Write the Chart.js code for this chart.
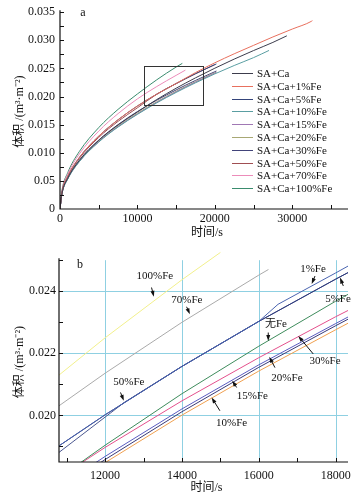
<!DOCTYPE html>
<html>
<head>
<meta charset="utf-8">
<script src="https://cdn.jsdelivr.net/npm/chart.js@4.4.0/dist/chart.umd.min.js"></script>
<style>
html, body { margin: 0; padding: 0; background: #fff; }
#wrap { position: relative; width: 363px; height: 499px; }
canvas { position: absolute; left: 0; }
#ca { top: 0; }
#cb { top: 250px; }
</style>
</head>
<body>
<div id="wrap">
  <canvas id="ca" width="363" height="250"></canvas>
  <canvas id="cb" width="363" height="249"></canvas>
</div>
<script>
const seriesNames = ['SA+Ca', 'SA+Ca+1%Fe', 'SA+Ca+5%Fe', 'SA+Ca+10%Fe', 'SA+Ca+15%Fe',
    'SA+Ca+20%Fe', 'SA+Ca+30%Fe', 'SA+Ca+50%Fe', 'SA+Ca+70%Fe', 'SA+Ca+100%Fe']

// 图a: 全程
const timeA = [0, 250, 1000, 2500, 5000, 7500, 10000, 12500, 15000, 17500, 20000, 22500, 25000, 27500, 30000, 32500]
const vSA = [0, 0.00273, 0.00546, 0.00863, 0.0122, 0.01494, 0.01725, 0.01947, 0.02148, 0.02332, 0.02504, 0.02666, 0.02818, 0.02963]
const v1Fe = [0, 0.0029, 0.00579, 0.00916, 0.01295, 0.01587, 0.01832, 0.02042, 0.02231, 0.02426, 0.0260, 0.0276, 0.0291, 0.0306, 0.0320, 0.0334]
const v5Fe = [0, 0.0029, 0.00579, 0.00916, 0.01295, 0.01587, 0.01832, 0.02042, 0.02231, 0.02406, 0.02568]
const v10Fe = [0, 0.00266, 0.00532, 0.00842, 0.0119, 0.01458, 0.01683, 0.01888, 0.02073, 0.02244, 0.02403, 0.02552, 0.02692]
const v15Fe = [0, 0.00267, 0.00534, 0.00845, 0.01195, 0.01464, 0.0169, 0.01897, 0.02084, 0.02256, 0.02416]
const v20Fe = [0, 0.00269, 0.00538, 0.00851, 0.01203, 0.01474, 0.01702, 0.01907, 0.02093, 0.02264, 0.02423]
const v30Fe = [0, 0.00274, 0.00548, 0.00867, 0.01225, 0.01501, 0.01733, 0.01935, 0.02118, 0.02286, 0.02442]
const v50Fe = [0, 0.00284, 0.00569, 0.009, 0.01273, 0.01559, 0.0180, 0.02042, 0.02231, 0.02406]
const v70Fe = [0, 0.0031, 0.00619, 0.00979, 0.01385, 0.01696, 0.01958, 0.02178, 0.02377]
const v100Fe = [0, 0.00323, 0.00647, 0.01023, 0.01447, 0.01772, 0.02046, 0.02298, 0.02525]
const endTimeA = [29300, 32600, 20200, 27000, 20200, 20200, 20200, 20000, 16200, 15800]
const endVolA = [0.0308, 0.0335, 0.0258, 0.0282, 0.02429, 0.02435, 0.02454, 0.02568, 0.0247, 0.0259]
const xTicksA = [0, 10000, 20000, 30000]
const yTickLabelsA = ['0', '0.05', '0.010', '0.015', '0.020', '0.025', '0.030', '0.035']
const boxT = [10840, 18500]
const boxV = [0.01842, 0.0255]

// 图b: 局部放大
const timeB = [10800, 12000, 12500, 14000, 15000, 16000, 16250, 16500, 18000, 18320]
const namesB = ['100%Fe', '70%Fe', '1%Fe', '5%Fe', '50%Fe', '无Fe', '30%Fe', '20%Fe', '15%Fe', '10%Fe']
const b100 = [0.0213, 0.0225, null, 0.02437, 0.02525, null, null, null, null, null]
const b70 = [0.02031, 0.02136, null, 0.0230, null, 0.02452, 0.0247, null, null, null]
const b1 = [0.01902, 0.02002, null, 0.02158, null, 0.02303, null, 0.02358, 0.02459, 0.02481]
const b5 = [0.01902, 0.02002, null, 0.02158, null, 0.02303, null, null, 0.02439, 0.0246]
const b50 = [0.01881, null, 0.02042, 0.02158, null, 0.02303, null, null, 0.02439, 0.0246]
const b0 = [0.01799, 0.01904, null, 0.0207, null, 0.02223, null, null, 0.02368, 0.0239]
const b30 = [0.0180, 0.01897, null, 0.02047, null, 0.02186, null, null, 0.02318, 0.02338]
const b20 = [0.0177, 0.01868, null, 0.02021, null, 0.02163, null, null, 0.02296, 0.02317]
const b15 = [0.01759, 0.01858, null, 0.02012, null, 0.02155, null, null, 0.02289, 0.0231]
const b10 = [0.01751, 0.01848, null, 0.02001, null, 0.02143, null, null, 0.02276, 0.02297]
const xTicksB = [12000, 14000, 16000, 18000]
const yTicksB = [0.020, 0.022, 0.024]
const yTickLabelsB = ['0.020', '0.022', '0.024']

const colorsA = ['#3c3c4c', '#e8705e', '#34447a', '#5a9ea2', '#a078b4', '#a8a874',
    '#42447a', '#a04e52', '#ec8cba', '#3a8c6e']
const colorsB = ['#f2f08c', '#aaaaaa', '#4a64b0', '#2e3a7c', '#4c5890', '#3e8c5c',
    '#e4508c', '#5a5cc0', '#3a3a78', '#f0a050']

const serif = "'Liberation Serif', 'Times New Roman', serif"
const cjk = "'Liberation Serif', 'Noto Sans CJK SC', serif"

const valsA = [vSA, v1Fe, v5Fe, v10Fe, v15Fe, v20Fe, v30Fe, v50Fe, v70Fe, v100Fe]
const valsB = [b100, b70, b1, b5, b50, b0, b30, b20, b15, b10]

const setsA = valsA.map((vals, i) => {
    const pts = vals.map((v, j) => ({ x: timeA[j], y: v }))
    pts.push({ x: endTimeA[i], y: endVolA[i] })
    return {
        label: seriesNames[i],
        data: pts,
        borderColor: colorsA[i],
        borderWidth: 1,
        pointRadius: 0,
        cubicInterpolationMode: 'monotone'
    }
})

const setsB = valsB.map((vals, i) => ({
    label: namesB[i],
    data: timeB.map((t, j) => ({ x: t, y: vals[j] })).filter(p => p.y !== null),
    borderColor: colorsB[i],
    borderWidth: 1,
    pointRadius: 0,
    tension: 0,
    clip: i === 0 ? { left: 0, top: 10, right: 0, bottom: 0 } : 0
}))

const drawArrow = (ctx, x1, y1, x2, y2) => {
    const a = Math.atan2(y2 - y1, x2 - x1)
    ctx.beginPath()
    ctx.moveTo(x1, y1)
    ctx.lineTo(x2 - 3 * Math.cos(a), y2 - 3 * Math.sin(a))
    ctx.stroke()
    ctx.beginPath()
    ctx.moveTo(x2, y2)
    ctx.lineTo(x2 - 6 * Math.cos(a) + 2 * Math.sin(a), y2 - 6 * Math.sin(a) - 2 * Math.cos(a))
    ctx.lineTo(x2 - 6 * Math.cos(a) - 2 * Math.sin(a), y2 - 6 * Math.sin(a) + 2 * Math.cos(a))
    ctx.closePath()
    ctx.fill()
}

// 坐标轴、内向刻度和标题
const drawAxes = (chart, xTitleY, letter, letterPos) => {
    const ctx = chart.ctx
    const { left, right, top, bottom } = chart.chartArea
    const xs = chart.scales.x
    const ys = chart.scales.y
    ctx.save()
    ctx.strokeStyle = '#111'
    ctx.lineWidth = 1.2
    ctx.beginPath()
    ctx.moveTo(left, top - 2)
    ctx.lineTo(left, bottom)
    ctx.lineTo(right, bottom)
    ctx.stroke()
    ctx.lineWidth = 1
    xs.ticks.forEach(t => {
        const px = Math.round(xs.getPixelForValue(t.value)) + 0.5
        if (px <= left + 1) return
        ctx.beginPath()
        ctx.moveTo(px, bottom)
        ctx.lineTo(px, bottom - 4)
        ctx.stroke()
    })
    ys.ticks.forEach(t => {
        const py = Math.round(ys.getPixelForValue(t.value)) + 0.5
        if (py >= bottom - 1) return
        ctx.beginPath()
        ctx.moveTo(left, py)
        ctx.lineTo(left + 4, py)
        ctx.stroke()
    })
    ctx.fillStyle = '#111'
    ctx.font = '12px ' + cjk
    ctx.textAlign = 'center'
    ctx.textBaseline = 'middle'
    ctx.fillText('时间/s', (left + right) / 2 + 3, xTitleY)
    ctx.save()
    ctx.translate(20, (top + bottom) / 2 + 1)
    ctx.rotate(-Math.PI / 2)
    ctx.fillText('体积 /(m³·m⁻²)', 0, 0)
    ctx.restore()
    ctx.font = '12px ' + serif
    ctx.fillText(letter, letterPos[0], letterPos[1])
    ctx.restore()
}

const plugA = {
    id: 'plugA',
    afterDraw(chart) {
        drawAxes(chart, 233, 'a', [83, 13])
        const ctx = chart.ctx
        const xs = chart.scales.x
        const ys = chart.scales.y
        ctx.save()
        // 放大区域框
        ctx.strokeStyle = '#333'
        ctx.lineWidth = 1
        const bx1 = Math.round(xs.getPixelForValue(boxT[0])) + 0.5
        const bx2 = Math.round(xs.getPixelForValue(boxT[1])) + 0.5
        const by1 = Math.round(ys.getPixelForValue(boxV[1])) + 0.5
        const by2 = Math.round(ys.getPixelForValue(boxV[0])) + 0.5
        ctx.strokeRect(bx1, by1, bx2 - bx1, by2 - by1)
        // 图例
        ctx.font = '11px ' + serif
        ctx.textAlign = 'left'
        ctx.textBaseline = 'middle'
        seriesNames.forEach((name, i) => {
            const y = Math.round(73 + i * 12.8) + 0.5
            ctx.strokeStyle = colorsA[i]
            ctx.beginPath()
            ctx.moveTo(232, y)
            ctx.lineTo(253, y)
            ctx.stroke()
            ctx.fillStyle = '#111'
            ctx.fillText(name, 257, y + 0.5)
        })
        ctx.restore()
    }
}

// 图b 标注: 文字中心, 箭头起点, 箭头终点 (数据坐标)
const noteAt = [[13294, 0.02449], [14128, 0.02372], [12617, 0.02106], [17409, 0.02472], [18060, 0.02375],
    [16445, 0.02295], [17721, 0.02176], [16731, 0.02119], [15833, 0.02061], [15291, 0.01974]]
const noteTexts = ['100%Fe', '70%Fe', '50%Fe', '1%Fe', '5%Fe', '无Fe', '30%Fe', '20%Fe', '15%Fe', '10%Fe']
const arrowFrom = [[13208, 0.02412], [14120, 0.02350], [12401, 0.02074], [17461, 0.02449], [18198, 0.02417],
    [16245, 0.02267], [17416, 0.02198], [16419, 0.02154], [15422, 0.0209], [14987, 0.02015]]
const arrowTo = [[13268, 0.02382], [14206, 0.02326], [12487, 0.02047], [17375, 0.02423], [18112, 0.02444],
    [16245, 0.0224], [17026, 0.02256], [16271, 0.02189], [15307, 0.02112], [14771, 0.02058]]

const plugB = {
    id: 'plugB',
    beforeDatasetsDraw(chart) {
        const ctx = chart.ctx
        const { left, right, top, bottom } = chart.chartArea
        const xs = chart.scales.x
        const ys = chart.scales.y
        ctx.save()
        ctx.strokeStyle = '#8fd0e2'
        ctx.lineWidth = 1
        xTicksB.forEach(v => {
            const px = Math.round(xs.getPixelForValue(v)) + 0.5
            ctx.beginPath()
            ctx.moveTo(px, top)
            ctx.lineTo(px, bottom)
            ctx.stroke()
        })
        yTicksB.forEach(v => {
            const py = Math.round(ys.getPixelForValue(v)) + 0.5
            ctx.beginPath()
            ctx.moveTo(left, py)
            ctx.lineTo(right, py)
            ctx.stroke()
        })
        ctx.restore()
    },
    afterDraw(chart) {
        drawAxes(chart, 238, 'b', [80, 15])
        const ctx = chart.ctx
        const xs = chart.scales.x
        const ys = chart.scales.y
        const px = p => [xs.getPixelForValue(p[0]), ys.getPixelForValue(p[1])]
        ctx.save()
        ctx.fillStyle = '#111'
        ctx.strokeStyle = '#111'
        ctx.lineWidth = 1
        ctx.font = '11px ' + cjk
        ctx.textAlign = 'center'
        ctx.textBaseline = 'middle'
        noteTexts.forEach((txt, i) => {
            const c = px(noteAt[i])
            ctx.fillText(txt, c[0], c[1])
            const a = px(arrowFrom[i])
            const b = px(arrowTo[i])
            drawArrow(ctx, a[0], a[1], b[0], b[1])
        })
        ctx.restore()
    }
}

const tickFont = { family: serif, size: 12 }

new Chart(document.getElementById('ca'), {
    type: 'line',
    data: { datasets: setsA },
    options: {
        responsive: false,
        devicePixelRatio: 1,
        animation: false,
        events: [],
        layout: { padding: { left: 0, right: 15, top: 10, bottom: 0 } },
        plugins: { legend: { display: false }, tooltip: { enabled: false } },
        scales: {
            x: {
                type: 'linear',
                min: 0,
                max: 37200,
                grid: { display: false, drawTicks: false },
                border: { display: false },
                afterBuildTicks: s => { s.ticks = [0, 5000, 10000, 15000, 20000, 25000, 30000, 35000].map(v => ({ value: v })) },
                afterFit: s => { s.height = 41 },
                ticks: {
                    autoSkip: false, maxRotation: 0, padding: 3, color: '#111', font: tickFont,
                    callback: v => xTicksA.includes(v) ? String(v) : ''
                }
            },
            y: {
                type: 'linear',
                min: 0,
                max: 0.035,
                grid: { display: false, drawTicks: false },
                border: { display: false },
                afterBuildTicks: s => {
                    const t = []
                    for (let i = 0; i <= 14; i++) t.push({ value: i * 0.0025 })
                    s.ticks = t
                },
                afterFit: s => { s.width = 60 },
                ticks: {
                    autoSkip: false, padding: 5, color: '#111', font: tickFont,
                    callback: (v, i) => i % 2 === 0 ? yTickLabelsA[i / 2] : ''
                }
            }
        }
    },
    plugins: [plugA]
})

new Chart(document.getElementById('cb'), {
    type: 'line',
    data: { datasets: setsB },
    options: {
        responsive: false,
        devicePixelRatio: 1,
        animation: false,
        events: [],
        layout: { padding: { left: 0, right: 15, top: 9, bottom: 0 } },
        plugins: { legend: { display: false }, tooltip: { enabled: false } },
        scales: {
            x: {
                type: 'linear',
                min: 10800,
                max: 18320,
                grid: { display: false, drawTicks: false },
                border: { display: false },
                afterBuildTicks: s => { s.ticks = [11000, 12000, 13000, 14000, 15000, 16000, 17000, 18000].map(v => ({ value: v })) },
                afterFit: s => { s.height = 37 },
                ticks: {
                    autoSkip: false, maxRotation: 0, padding: 7, color: '#111', font: tickFont,
                    callback: v => xTicksB.includes(v) ? String(v) : ''
                }
            },
            y: {
                type: 'linear',
                min: 0.0185,
                max: 0.025,
                grid: { display: false, drawTicks: false },
                border: { display: false },
                afterBuildTicks: s => { s.ticks = [0.019, 0.020, 0.021, 0.022, 0.023, 0.024, 0.025].map(v => ({ value: v })) },
                afterFit: s => { s.width = 59 },
                ticks: {
                    autoSkip: false, padding: 3, color: '#111', font: tickFont,
                    callback: (v, i) => i % 2 === 1 ? yTickLabelsB[(i - 1) / 2] : ''
                }
            }
        }
    },
    plugins: [plugB]
})
</script>
</body>
</html>
